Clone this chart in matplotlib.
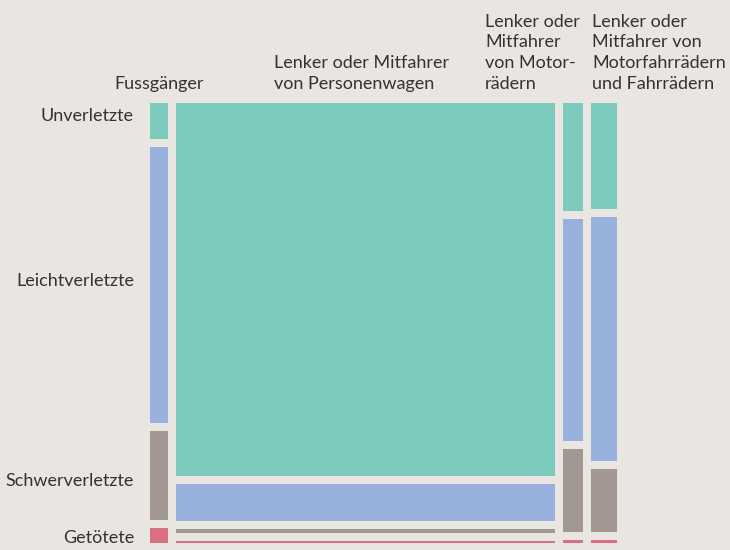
# %% Import necessary libraries
import numpy as np
import matplotlib.pyplot as plt

plt.rcParams["font.family"] = ["Lato", "DejaVu Sans"]

# %% Data (shares in percent)
groups = [
    "Fussgänger",
    "Lenker oder Mitfahrer\nvon Personenwagen",
    "Lenker oder\nMitfahrer\nvon Motor-\nrädern",
    "Lenker oder\nMitfahrer von\nMotorfahrrädern\nund Fahrrädern",
]
group_share = [4.1, 85.5, 4.5, 5.9]

severity = ["Unverletzte", "Leichtverletzte", "Schwerverletzte", "Getötete"]
unverletzte = [8.7, 89.7, 26.0, 25.5]
leichtverletzte = [66.1, 8.9, 53.4, 58.6]
schwerverletzte = [21.4, 1.0, 20.0, 15.2]
getoetete = [3.6, 0.5, 0.7, 0.7]

colors = ["#7dcbbd", "#97b1dc", "#a39792", "#d8707f"]
bg = "#e9e5e1"
text_color = "#333333"

# %% Layout of the mosaic
W, H = 730, 550
x0, x1, y0, y1 = 150, 617, 103, 543
gap_x = 8 / (x1 - x0)
gap_y = 8 / (y1 - y0)

shares = np.array(group_share) / np.sum(group_share)
widths = shares * (1 - gap_x * (len(shares) - 1))
lefts = np.concatenate([[0], np.cumsum(widths + gap_x)[:-1]])

rows = np.array([unverletzte, leichtverletzte, schwerverletzte, getoetete])
rows = rows / rows.sum(axis=0)
heights = rows * (1 - gap_y * (len(severity) - 1))
tops = np.vstack([np.zeros(len(groups)), np.cumsum(heights + gap_y, axis=0)[:-1]])

# %% Plot
fig = plt.figure(figsize=(W / 100, H / 100), dpi=100, facecolor=bg)
ax = fig.add_axes([x0 / W, 1 - y1 / H, (x1 - x0) / W, (y1 - y0) / H])
ax.set_facecolor(bg)

for i, name in enumerate(severity):
    ax.bar(lefts, heights[i], widths, tops[i], align="edge", color=colors[i],
           linewidth=0)

ax.set_xlim(0, 1)
ax.set_ylim(1, 0)
ax.axis("off")

# column labels (left edge in px, last baseline at y=88)
col_label_x = [114, 274, 485, 592]
for label, lx in zip(groups, col_label_x):
    fig.text(lx / W, 1 - 92 / H, label, ha="left", va="bottom", fontsize=13,
             color=text_color, linespacing=1.37)

# row labels (right aligned, baselines in px)
row_label_y = [121, 286, 486, 543]
for label, ly in zip(severity, row_label_y):
    fig.text(134 / W, 1 - ly / H, label, ha="right", va="baseline",
             fontsize=13, color=text_color)

plt.savefig("out.png", dpi=100, facecolor=bg)
